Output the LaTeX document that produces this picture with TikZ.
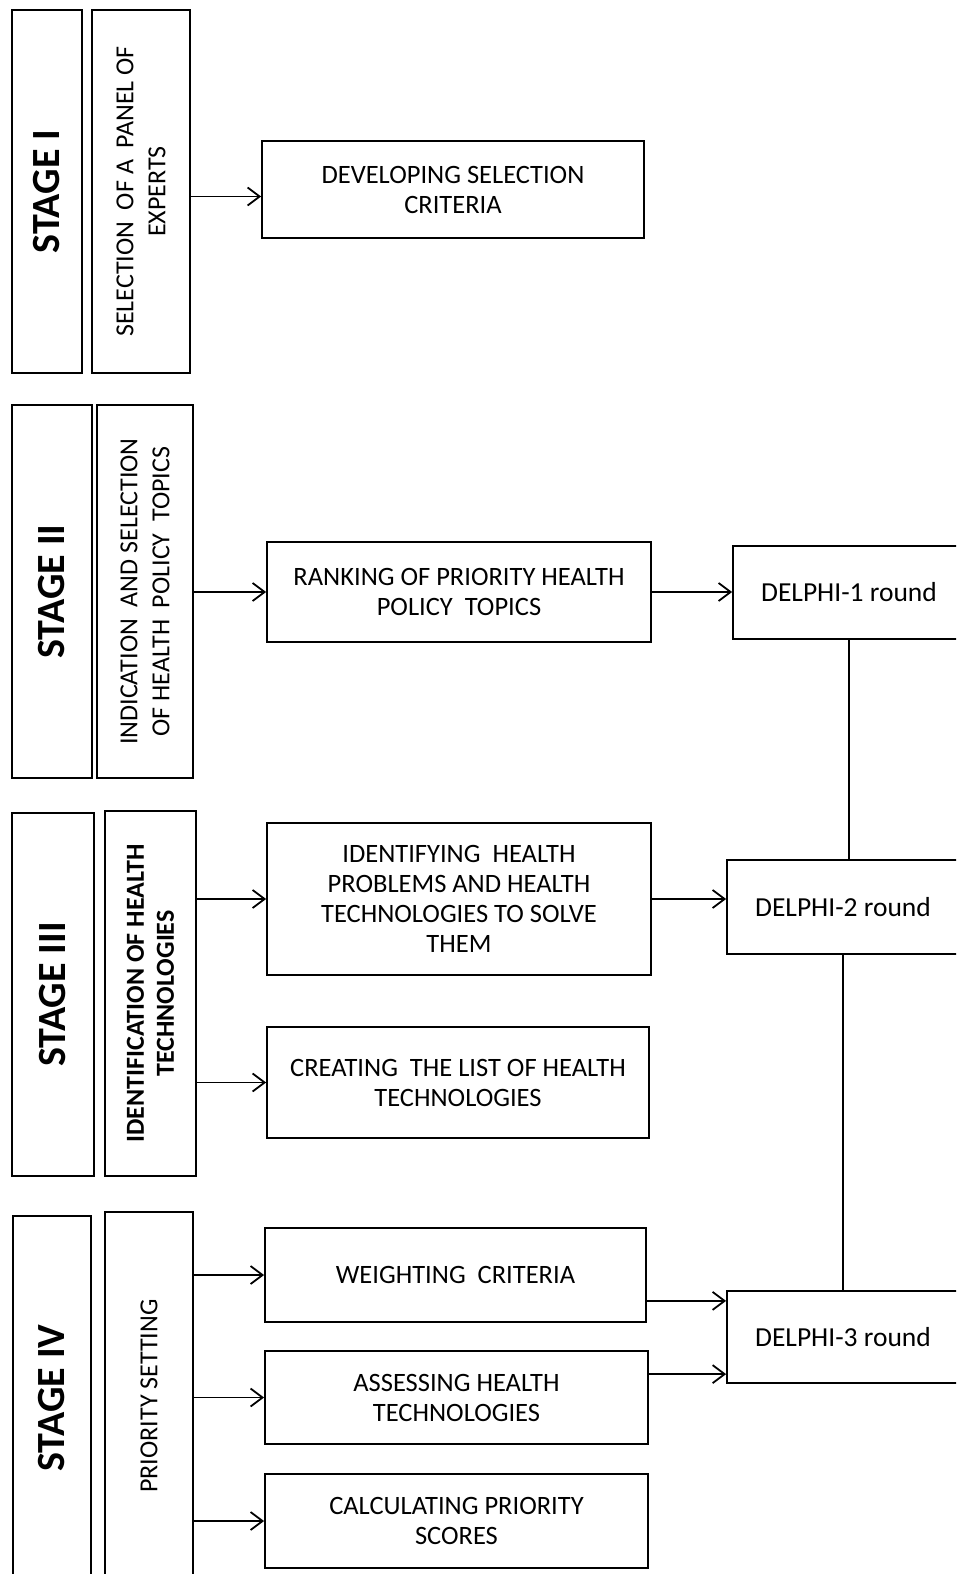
\documentclass[tikz,border=0pt]{standalone}
\usepackage{fontspec}
\setmainfont{Carlito}
\usepackage{tikz}
\usetikzlibrary{arrows.meta,positioning,calc}

\tikzset{
  box/.style={draw,rectangle,line width=1.8pt,inner sep=0pt,align=center},
  stagebox/.style={box,rotate=90,font=\fontsize{40}{46}\selectfont\bfseries},
  subbox/.style={box,rotate=90,font=\fontsize{26}{32}\selectfont},
  taskbox/.style={box,font=\fontsize{26.5}{30}\selectfont},
  arr/.style={line width=1.8pt,-{Straight Barb[length=12pt,width=18pt,line width=1.8pt]}},
  link/.style={line width=1.8pt},
}

\begin{document}
\begin{tikzpicture}[x=1pt,y=-1pt]
      \useasboundingbox (0,0) rectangle (956,1574);
      \clip (0,0) rectangle (956,1574);
      % stage I
      \node[stagebox,minimum width=363pt,minimum height=70pt] (st1) at (47,191.5) {STAGE I};
      \node[subbox,minimum width=363pt,minimum height=98pt] (sub1) at (141,191.5) {SELECTION\ \ OF A\ \ PANEL OF\\EXPERTS};
      \node[taskbox,minimum width=382pt,minimum height=97pt] (dev) at (453,189.5) {DEVELOPING SELECTION\\CRITERIA};
      % stage II
      \node[stagebox,minimum width=373pt,minimum height=80pt] (st2) at (52,591.5) {STAGE II};
      \node[subbox,minimum width=373pt,minimum height=96pt] (sub2) at (145,591.5) {INDICATION\ \ AND SELECTION\\OF HEALTH\ \ POLICY\ \ TOPICS};
      \node[taskbox,minimum width=384pt,minimum height=100pt] (rank) at (459,592) {RANKING OF PRIORITY HEALTH\\POLICY\ \ TOPICS};
      \node[taskbox,minimum width=232pt,minimum height=93pt,font=\fontsize{27.5}{30}\selectfont] (d1) at (849,592.5) {DELPHI-1 round};
      % stage III
      \node[stagebox,minimum width=363pt,minimum height=82pt] (st3) at (53,994.5) {STAGE III};
      \node[subbox,minimum width=365pt,minimum height=91pt,font=\fontsize{26}{30}\selectfont\bfseries] (sub3) at (150.5,993.5) {IDENTIFICATION OF HEALTH\\TECHNOLOGIES};
      \node[taskbox,minimum width=384pt,minimum height=152pt] (ident) at (459,899) {IDENTIFYING\ \ HEALTH\\PROBLEMS AND HEALTH\\TECHNOLOGIES TO SOLVE\\THEM};
      \node[taskbox,minimum width=382pt,minimum height=111pt] (create) at (458,1082.5) {CREATING\ \ THE LIST OF HEALTH\\TECHNOLOGIES};
      \node[taskbox,minimum width=232pt,minimum height=94pt,font=\fontsize{27.5}{30}\selectfont] (d2) at (843,907) {DELPHI-2 round};
      % stage IV
      \node[stagebox,minimum width=364pt,minimum height=78pt] (st4) at (52,1398) {STAGE IV};
      \node[subbox,minimum width=368pt,minimum height=88pt] (sub4) at (149,1396) {PRIORITY SETTING};
      \node[taskbox,minimum width=381pt,minimum height=94pt] (weight) at (455.5,1275) {WEIGHTING\ \ CRITERIA};
      \node[taskbox,minimum width=383pt,minimum height=93pt] (assess) at (456.5,1397.5) {ASSESSING HEALTH\\TECHNOLOGIES};
      \node[taskbox,minimum width=383pt,minimum height=94pt] (calc) at (456.5,1521) {CALCULATING PRIORITY\\SCORES};
      \node[taskbox,minimum width=232pt,minimum height=92pt,font=\fontsize{27.5}{30}\selectfont] (d3) at (843,1337) {DELPHI-3 round};

      \draw[arr] ([yshift=-5pt]sub1.south) -- ([yshift=-5pt]sub1.south -| dev.west);
      \draw[arr] (sub2.south |- rank.west) -- (rank.west);
      \draw[arr] (rank.east) -- (rank.east -| d1.west);
      \draw[arr] (sub3.south |- ident.west) -- (ident.west);
      \draw[arr] (sub3.south |- create.west) -- (create.west);
      \draw[arr] (ident.east) -- (ident.east -| d2.west);
      \draw[arr] (sub4.south |- weight.west) -- (weight.west);
      \draw[arr] (sub4.south |- assess.west) -- (assess.west);
      \draw[arr] (sub4.south |- calc.west) -- (calc.west);
      \draw[arr] ([yshift=22pt]weight.south east) -- ([yshift=22pt]weight.south east -| d3.west);
      \draw[arr] ([yshift=-24pt]assess.north east) -- ([yshift=-24pt]assess.north east -| d3.west);
      \draw[link] (d1.south) -- (d1.south |- d2.north);
      \draw[link] (d2.south) -- (d2.south |- d3.north);
    \end{tikzpicture}
\end{document}
